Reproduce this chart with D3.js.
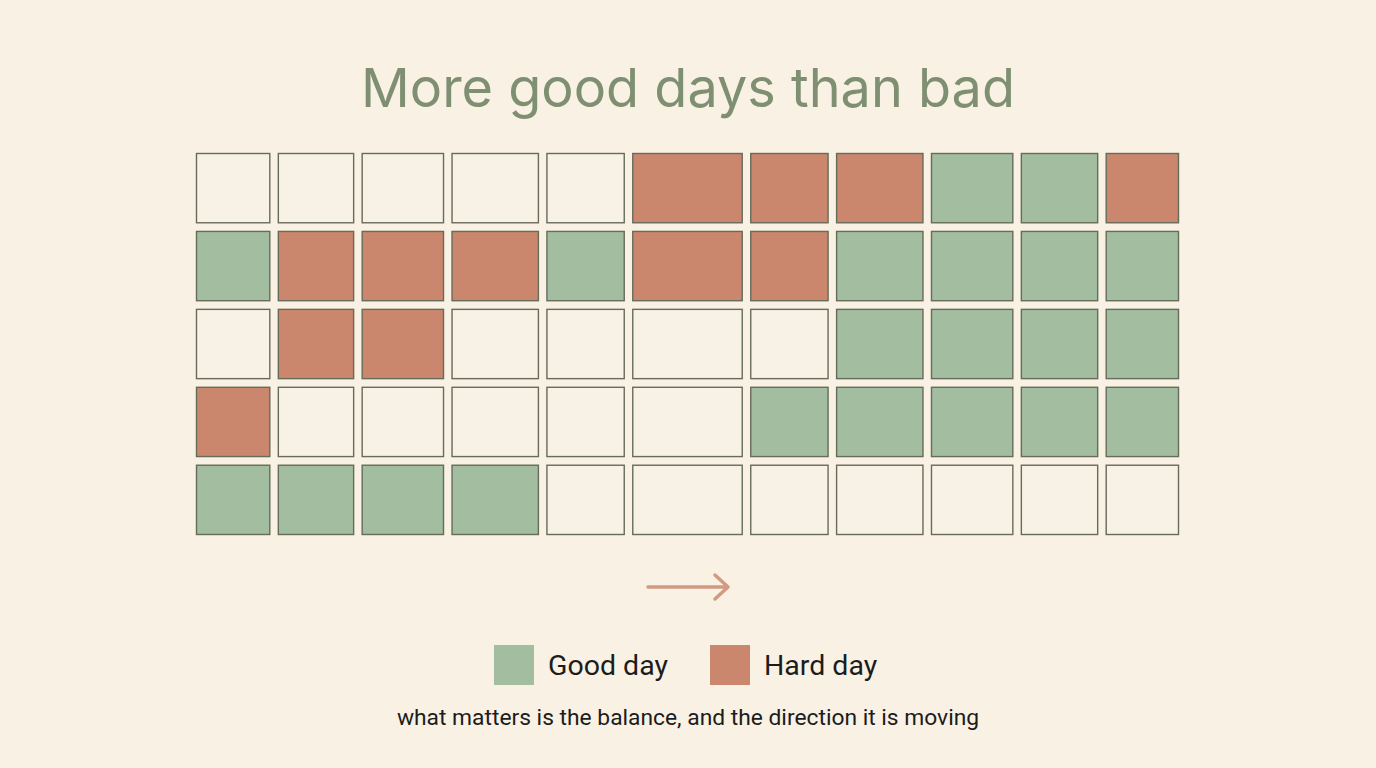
<!DOCTYPE html>
<html>
<head>
<meta charset="utf-8">
<script src="https://cdn.jsdelivr.net/npm/d3@7"></script>
<style>
  html, body { margin: 0; padding: 0; background: #f8f1e4; }
  svg { display: block; }
</style>
</head>
<body>
<svg id="chart" width="1376" height="768"></svg>
<script>
// ---- data ----
const title = "More good days than bad";
const subtitle = "what matters is the balance, and the direction it is moving";
const categories = ["empty", "good", "hard"];
const legendLabels = ["Good day", "Hard day"];
const legendKeys = ["good", "hard"];
// day states per row (0 = no entry, 1 = good, 2 = hard)
const row1 = [0, 0, 0, 0, 0, 2, 2, 2, 1, 1, 2];
const row2 = [1, 2, 2, 2, 1, 2, 2, 1, 1, 1, 1];
const row3 = [0, 2, 2, 0, 0, 0, 0, 1, 1, 1, 1];
const row4 = [2, 0, 0, 0, 0, 0, 1, 1, 1, 1, 1];
const row5 = [1, 1, 1, 1, 0, 0, 0, 0, 0, 0, 0];
const rows = [row1, row2, row3, row4, row5];

// ---- layout (not data) ----
const colWeights = [74, 76, 82, 87, 78, 110, 78, 87, 82, 77, 73];
const gridLeft = 196, gridRight = 1179, gridTop = 153, gridBottom = 535;
const gap = 7.5;

const colors = { empty: "#f8f2e6", good: "#a2bd9f", hard: "#cb876d" };
const strokeColor = "#676b5a";

const svg = d3.select("#chart");
svg.append("rect").attr("width", 1376).attr("height", 768).attr("fill", "#f8f1e4");

// title
svg.append("text")
  .attr("x", 688).attr("y", 107)
  .attr("text-anchor", "middle")
  .attr("font-family", "Inter, 'Open Sans', sans-serif")
  .attr("font-size", 54)
  .attr("fill", "#7f8f72")
  .text(title);

// column scale built from cumulative weights
const totalW = d3.sum(colWeights) + gap * (colWeights.length - 1);
const cum = d3.cumsum([0, ...colWeights.map(w => w + gap)]);
const xs = d3.scaleLinear().domain([0, totalW]).range([gridLeft, gridRight]);

const y = d3.scaleBand()
  .domain(d3.range(rows.length))
  .range([gridTop, gridBottom])
  .paddingInner(gap / ((gridBottom - gridTop) / rows.length));

const cells = [];
rows.forEach((r, ri) => r.forEach((v, ci) => cells.push({ ri, ci, cat: categories[v] })));

svg.append("g").selectAll("rect")
  .data(cells)
  .join("rect")
  .attr("x", d => xs(cum[d.ci]) + 0.5)
  .attr("y", d => y(d.ri) + 0.5)
  .attr("width", d => xs(cum[d.ci] + colWeights[d.ci]) - xs(cum[d.ci]) - 1)
  .attr("height", y.bandwidth() - 1)
  .attr("fill", d => colors[d.cat])
  .attr("stroke", strokeColor)
  .attr("stroke-width", 1.4);

// arrow
const arrow = svg.append("g")
  .attr("stroke", "#d29a83")
  .attr("stroke-width", 3.5)
  .attr("stroke-linecap", "round")
  .attr("stroke-linejoin", "round")
  .attr("fill", "none");
arrow.append("line").attr("x1", 648).attr("y1", 587).attr("x2", 727).attr("y2", 587);
arrow.append("path").attr("d", "M 715 575 L 728 587 L 715 599");

// legend
const legend = svg.append("g");
const legendX = [494, 710];
legendKeys.forEach((k, i) => {
  legend.append("rect")
    .attr("x", legendX[i]).attr("y", 645)
    .attr("width", 40).attr("height", 40)
    .attr("fill", colors[k]);
  legend.append("text")
    .attr("x", legendX[i] + 54).attr("y", 675)
    .attr("font-family", "Roboto, sans-serif")
    .attr("font-size", 28.5)
    .attr("fill", "#1c1c1c")
    .text(legendLabels[i]);
});

// subtitle
svg.append("text")
  .attr("x", 688).attr("y", 725)
  .attr("text-anchor", "middle")
  .attr("font-family", "Roboto, sans-serif")
  .attr("font-size", 22.8)
  .attr("fill", "#1c1c1c")
  .text(subtitle);
</script>
</body>
</html>
